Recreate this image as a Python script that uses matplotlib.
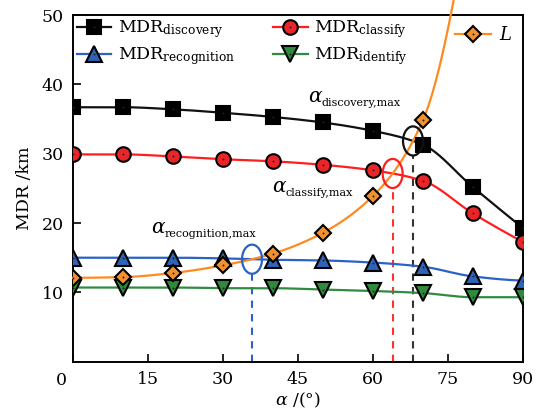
import numpy as np
import matplotlib
matplotlib.use("Agg")
import matplotlib.pyplot as plt
from matplotlib.patches import Ellipse
from matplotlib.legend_handler import HandlerTuple

plt.rcParams['font.family'] = ['DejaVu Serif']
plt.rcParams['mathtext.fontset'] = 'custom'
plt.rcParams['mathtext.rm'] = 'DejaVu Serif'
plt.rcParams['mathtext.it'] = 'DejaVu Serif:italic'

# Elevation angle (degrees)
alpha = [0, 10, 20, 30, 40, 50, 60, 70, 80, 90]

# Maximum detection range for each task level (km)
mdr_discovery = [36.7, 36.7, 36.4, 35.9, 35.3, 34.5, 33.3, 31.3, 25.2, 19.3]
mdr_classify = [29.9, 29.9, 29.6, 29.2, 28.9, 28.4, 27.6, 26.1, 21.4, 17.3]
mdr_recognition = [15.0, 15.0, 15.0, 14.9, 14.7, 14.6, 14.3, 13.7, 12.3, 11.7]
mdr_identify = [10.7, 10.7, 10.7, 10.6, 10.6, 10.4, 10.2, 9.9, 9.3, 9.3]

# Slant range L (km); the last sample lies above the plotted range
alpha_L = [0, 10, 20, 30, 40, 50, 60, 70, 80]
slant_L = [12.1, 12.2, 12.8, 13.9, 15.6, 18.6, 23.9, 34.8, 68.0]

xticks = [0, 15, 30, 45, 60, 75, 90]
yticks = [10, 20, 30, 40, 50]


def pchip(x, y, xs):
    x = np.asarray(x, float)
    y = np.asarray(y, float)
    h = np.diff(x)
    d = np.diff(y) / h
    n = len(x)
    m = np.zeros(n)
    for k in range(1, n - 1):
        if d[k - 1] * d[k] > 0:
            w1 = 2 * h[k] + h[k - 1]
            w2 = h[k] + 2 * h[k - 1]
            m[k] = (w1 + w2) / (w1 / d[k - 1] + w2 / d[k])
    def end(h0, h1, d0, d1):
        v = ((2 * h0 + h1) * d0 - h0 * d1) / (h0 + h1)
        if np.sign(v) != np.sign(d0):
            v = 0.0
        elif np.sign(d0) != np.sign(d1) and abs(v) > abs(3 * d0):
            v = 3 * d0
        return v
    m[0] = end(h[0], h[1], d[0], d[1])
    m[-1] = end(h[-1], h[-2], d[-1], d[-2])
    idx = np.clip(np.searchsorted(x, xs) - 1, 0, n - 2)
    t = (xs - x[idx]) / h[idx]
    h00 = 2 * t**3 - 3 * t**2 + 1
    h10 = t**3 - 2 * t**2 + t
    h01 = -2 * t**3 + 3 * t**2
    h11 = t**3 - t**2
    return h00 * y[idx] + h10 * h[idx] * m[idx] + h01 * y[idx + 1] + h11 * h[idx] * m[idx + 1]


fig = plt.figure(figsize=(5.42, 4.17), dpi=100)
ax = fig.add_axes([0.1352, 0.1326, 0.8292, 0.8314])

series = [
    (mdr_discovery, 's', 9.5, '#111111', '#000000', r'$\mathrm{MDR}_{\mathrm{discovery}}$'),
    (mdr_classify, 'o', 10.5, '#ff1e1e', '#e8262a', r'$\mathrm{MDR}_{\mathrm{classify}}$'),
    (mdr_recognition, '^', 11.5, '#2a62c8', '#2f63b8', r'$\mathrm{MDR}_{\mathrm{recognition}}$'),
    (mdr_identify, 'v', 11.5, '#2e8b40', '#2f8a3c', r'$\mathrm{MDR}_{\mathrm{identify}}$'),
]

xs = np.linspace(0, 90, 901)
xs_L = np.linspace(0, 80, 801)
L_dense = pchip(alpha_L, slant_L, xs_L)

handles = {}
dense = {}
for vals, mk, ms, lc, fc, lab in series:
    yd = pchip(alpha, vals, xs)
    dense[lab] = yd
    ax.plot(xs, yd, color=lc, lw=1.6, zorder=2)
    ax.plot(alpha, vals, ls='none', marker=mk, ms=ms, mfc=fc, mec='black',
            mew=1.5, zorder=4)
    dot, = ax.plot(alpha, vals, ls='none', marker='o', ms=1.4, mfc='#222222',
                   mec='none', zorder=5)
    lh, = ax.plot([], [], color=lc, lw=1.6, marker=mk, ms=ms, mfc=fc, mec='black', mew=1.5)
    handles[lab] = (lh, dot)

# Slant range curve, allowed to run past the top of the frame
ax.plot(xs_L, L_dense, color='#ff8a1f', lw=1.6, zorder=3, clip_on=False)
ax.plot(alpha_L, slant_L, ls='none', marker='D', ms=8.5, mfc='#f29130', mec='black',
        mew=1.5, zorder=6)
dotL, = ax.plot(alpha_L, slant_L, ls='none', marker='o', ms=1.4, mfc='#222222',
                mec='none', zorder=7)
lhL, = ax.plot([], [], color='#ff8a1f', lw=1.6, marker='D', ms=8.5, mfc='#f29130',
               mec='black', mew=1.5)

# Crossing of L with the MDR curves -> maximum usable angle
L_on_grid = pchip(alpha_L, slant_L, np.clip(xs, 0, 80))
marks = [
    (r'$\mathrm{MDR}_{\mathrm{discovery}}$', '#111111', '#333333'),
    (r'$\mathrm{MDR}_{\mathrm{classify}}$', '#ff1e1e', '#ff3030'),
    (r'$\mathrm{MDR}_{\mathrm{recognition}}$', '#2a62c8', '#2a62c8'),
]
ew, eh = 4.0, 4.2
for lab, ec, dc in marks:
    diff = L_on_grid - dense[lab]
    k = np.where((diff[:-1] < 0) & (diff[1:] >= 0))[0][0]
    f = -diff[k] / (diff[k + 1] - diff[k])
    xc = xs[k] + f * (xs[k + 1] - xs[k])
    yc = dense[lab][k] + f * (dense[lab][k + 1] - dense[lab][k])
    ax.add_patch(Ellipse((xc, yc), ew, eh, fill=False, ec=ec, lw=1.6, zorder=8))
    ax.plot([xc, xc], [0, yc - eh / 2], color=dc, lw=1.5, ls=(0, (3.5, 3)), zorder=1)

# Angle labels: large alpha with a small roman subscript
angle_labels = [
    (47.0, 37.5, 'discovery,max'),
    (39.7, 24.5, 'classify,max'),
    (15.5, 18.5, 'recognition,max'),
]
for x0, y0, sub in angle_labels:
    ax.text(x0, y0, r'$\alpha$', fontsize=14.5, va='baseline', ha='left')
    ax.annotate(sub, xy=(x0, y0), xytext=(13.5, -4), textcoords='offset pixels',
                fontsize=8, va='baseline', ha='left')

ax.set_xlim(0, 90)
ax.set_ylim(0, 50)
ax.set_xticks(xticks)
ax.set_xticklabels([''] + [str(v) for v in xticks[1:]])
ax.set_yticks(yticks)
ax.set_yticklabels([str(v) for v in yticks])
ax.tick_params(direction='in', length=6, width=1.2, labelsize=12.5, pad=7)
ax.annotate('0', xy=(0, 0), xytext=(-11.6, -18.3), textcoords='offset pixels',
            ha='center', va='center', fontsize=12.5)
for s in ax.spines.values():
    s.set_linewidth(1.4)

ax.set_xlabel(r'$\alpha$ /(°)', fontsize=12.5, labelpad=2)
ax.set_ylabel('MDR /km', fontsize=12.5, labelpad=6)

order = [r'$\mathrm{MDR}_{\mathrm{discovery}}$', r'$\mathrm{MDR}_{\mathrm{recognition}}$',
         r'$\mathrm{MDR}_{\mathrm{classify}}$', r'$\mathrm{MDR}_{\mathrm{identify}}$']
leg1 = ax.legend([handles[k] for k in order], order, ncol=2, loc='upper left',
                 frameon=False, fontsize=12.5, handlelength=2.0, handletextpad=0.35,
                 columnspacing=2.2, labelspacing=0.3, borderaxespad=0.0, borderpad=0.2,
                 handler_map={tuple: HandlerTuple(ndivide=1)})
ax.add_artist(leg1)
ax.legend([(lhL, dotL)], [r'$L$'], loc='upper right', frameon=False, fontsize=13,
          handlelength=2.0, handletextpad=0.4, borderaxespad=0.35, borderpad=0.25,
          handler_map={tuple: HandlerTuple(ndivide=1)})

fig.savefig('out.png', dpi=100)
